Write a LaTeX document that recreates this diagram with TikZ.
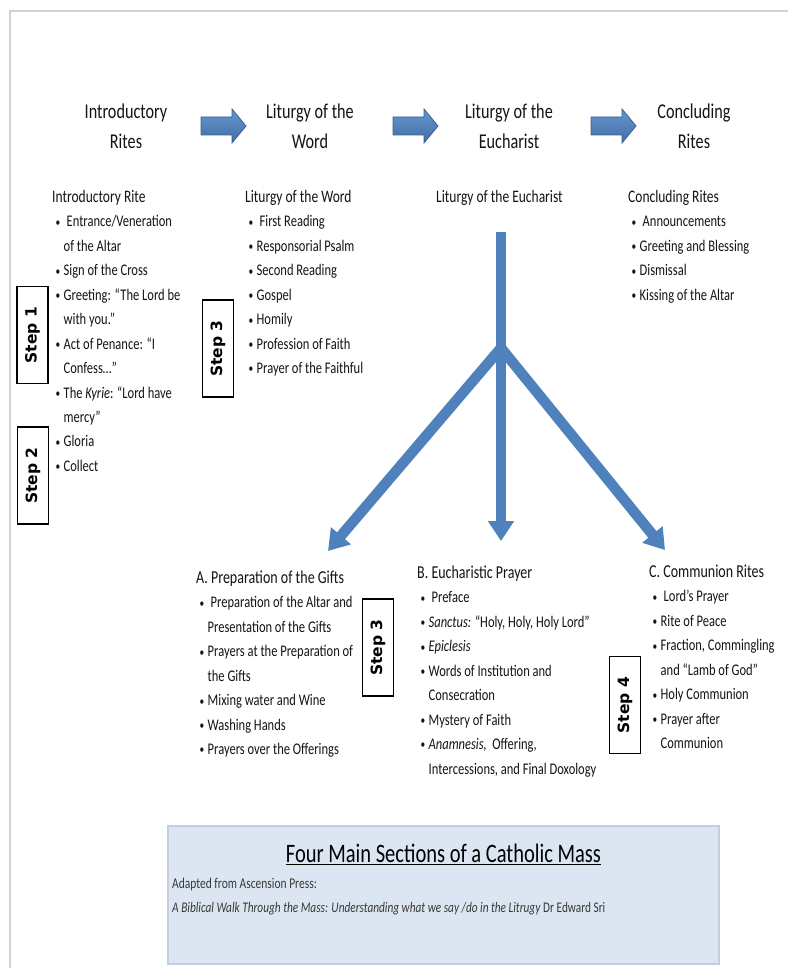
\documentclass[tikz,border=0pt]{standalone}
\usepackage{fontspec}
\setmainfont{Carlito}
\newfontfamily\stepfont{DejaVu Sans}
\usepackage{graphicx}
\usetikzlibrary{arrows.meta}
\definecolor{mblue}{HTML}{4F81BD}
\definecolor{mbluedark}{HTML}{3A6190}
\definecolor{mbluelight}{HTML}{6696D2}
\definecolor{boxfill}{HTML}{DCE6F2}
\definecolor{boxline}{HTML}{C4CEDA}
\definecolor{framegray}{HTML}{D2D2D2}
\definecolor{txt}{HTML}{141414}
\definecolor{srctxt}{HTML}{383838}
\newcommand\st[1]{\scalebox{1}[1.3]{#1}}
\newcommand\bu{\hspace{3.5pt}\makebox[8pt][l]{\raisebox{0.5pt}{\scalebox{0.75}{\textbullet}}}}
\newcommand\nb{\hspace{11.5pt}}
\newcommand\fs[2]{\fontsize{#1}{#2}\selectfont}
\tikzset{
  lst/.style={anchor=base west, inner sep=0pt, text=txt},
  head/.style={anchor=base, inner sep=0pt, text=txt},
  stepbox/.style={draw=black, line width=1.1pt, rotate=90, minimum width=97pt,
    minimum height=31pt, inner sep=0pt, font=\stepfont\bfseries\fontsize{15.5}{17}\selectfont},
  flowarrow/.style={draw=mbluedark, line width=0.8pt, top color=mbluelight, bottom color=mblue!85!black},
  tree/.style={draw=mblue, line width=10.5pt},
  treetip/.style={tree, -{Triangle[width=25pt,length=20pt]}},
}
\begin{document}
\begin{tikzpicture}[x=1pt,y=-1pt]
\path[use as bounding box, fill=white] (0,0) rectangle (788,968);
% frame
\draw[framegray, line width=2.5pt] (10,968) -- (10,11) -- (788,11);

% headings
\node[head] (h1) at (126,118.5) {\st{\fs{16.2}{23.1}\begin{tabular}[t]{@{}c@{}}Introductory\\Rites\end{tabular}}};
\node[head] (h2) at (310,118.5) {\st{\fs{16.2}{23.1}\begin{tabular}[t]{@{}c@{}}Liturgy of the\\Word\end{tabular}}};
\node[head] (h3) at (509,118.5) {\st{\fs{16.2}{23.1}\begin{tabular}[t]{@{}c@{}}Liturgy of the\\Eucharist\end{tabular}}};
\node[head] (h4) at (694,118.5) {\st{\fs{16.2}{23.1}\begin{tabular}[t]{@{}c@{}}Concluding\\Rites\end{tabular}}};

% block arrows
\foreach \x in {201,393,591}{
  \path[flowarrow] (\x,117) -- (\x+31,117) -- (\x+31,109) -- (\x+45,126) -- (\x+31,143) -- (\x+31,135) -- (\x,135) -- cycle;
}

% column lists
\node[lst] (c1) at (52,202.5) {\st{\fs{12.5}{18.8}\begin{tabular}[t]{@{}l@{}}
{\fs{13.5}{18.8}Introductory Rite}\\
\bu\hspace{3pt}Entrance/Veneration\\
\nb of the Altar\\
\bu Sign of the Cross\\
\bu Greeting: “The Lord be\\
\nb with you.”\\
\bu Act of Penance: “I\\
\nb Confess…”\\
\bu The \textit{Kyrie}: “Lord have\\
\nb mercy”\\
\bu Gloria\\
\bu Collect
\end{tabular}}};

\node[lst] (c2) at (245,202.5) {\st{\fs{12.5}{18.8}\begin{tabular}[t]{@{}l@{}}
{\fs{13.5}{18.8}Liturgy of the Word}\\
\bu\hspace{3pt}First Reading\\
\bu Responsorial Psalm\\
\bu Second Reading\\
\bu Gospel\\
\bu Homily\\
\bu Profession of Faith\\
\bu Prayer of the Faithful
\end{tabular}}};

\node[lst] (c3) at (436,202.5) {\st{\fs{13.5}{18.8}Liturgy of the Eucharist}};

\node[lst] (c4) at (628,202.5) {\st{\fs{12.5}{18.8}\begin{tabular}[t]{@{}l@{}}
{\fs{13.5}{18.8}Concluding Rites}\\
\bu\hspace{3pt}Announcements\\
\bu Greeting and Blessing\\
\bu Dismissal\\
\bu Kissing of the Altar
\end{tabular}}};

% tree
\coordinate (trunktop) at (501,232);
\coordinate (junc) at (501,348);
\coordinate (tipA) at (328,551);
\coordinate (tipB) at (501,541);
\coordinate (tipC) at (665,550);
\draw[treetip] (trunktop) -- (tipB);
\draw[treetip] (junc) -- (tipA);
\draw[treetip] (junc) -- (tipC);

% lower lists
\node[lst] (la) at (196,583.5) {\st{\fs{12.5}{18.8}\begin{tabular}[t]{@{}l@{}}
{\fs{14}{18.8}A. Preparation of the Gifts}\\
\bu\hspace{3pt}Preparation of the Altar and\\
\nb Presentation of the Gifts\\
\bu Prayers at the Preparation of\\
\nb the Gifts\\
\bu Mixing water and Wine\\
\bu Washing Hands\\
\bu Prayers over the Offerings
\end{tabular}}};

\node[lst] (lb) at (417,578.5) {\st{\fs{12.5}{18.8}\begin{tabular}[t]{@{}l@{}}
{\fs{14}{18.8}B. Eucharistic Prayer}\\
\bu\hspace{3pt}Preface\\
\bu \textit{Sanctus:} “Holy, Holy, Holy Lord”\\
\bu \textit{Epiclesis}\\
\bu Words of Institution and\\
\nb Consecration\\
\bu Mystery of Faith\\
\bu \textit{Anamnesis,}\ \ Offering,\\
\nb Intercessions, and Final Doxology
\end{tabular}}};

\node[lst] (lc) at (649,577.5) {\st{\fs{12.5}{18.8}\begin{tabular}[t]{@{}l@{}}
{\fs{14}{18.8}C. Communion Rites}\\
\bu\hspace{3pt}Lord’s Prayer\\
\bu Rite of Peace\\
\bu Fraction, Commingling\\
\nb and “Lamb of God”\\
\bu Holy Communion\\
\bu Prayer after\\
\nb Communion
\end{tabular}}};

% step boxes
\node[stepbox] (s1) at (32.5,335) {Step 1};
\node[stepbox] (s2) at (33,475.5) {Step 2};
\node[stepbox] (s3a) at (218,348.5) {Step 3};
\node[stepbox] (s3b) at (378,647.5) {Step 3};
\node[stepbox] (s4) at (625,705) {Step 4};

% source box
\node[draw=boxline, fill=boxfill, line width=2pt, minimum width=551pt, minimum height=138pt, inner sep=0pt] (src) at (443.5,895) {};
\node[head, text=black] (title) at (443.5,862.5) {\st{\fs{20.5}{24}\underline{Four Main Sections of a Catholic Mass}}};
\node[lst, text=srctxt] (adapt) at (172,888) {\st{\fs{11.5}{14}Adapted from Ascension Press:}};
\node[lst, text=srctxt] (book) at (172,912) {\st{\fs{11.3}{14}\textit{A Biblical Walk Through the Mass: Understanding what we say /do in the Litrugy} Dr Edward Sri}};
\end{tikzpicture}
\end{document}
